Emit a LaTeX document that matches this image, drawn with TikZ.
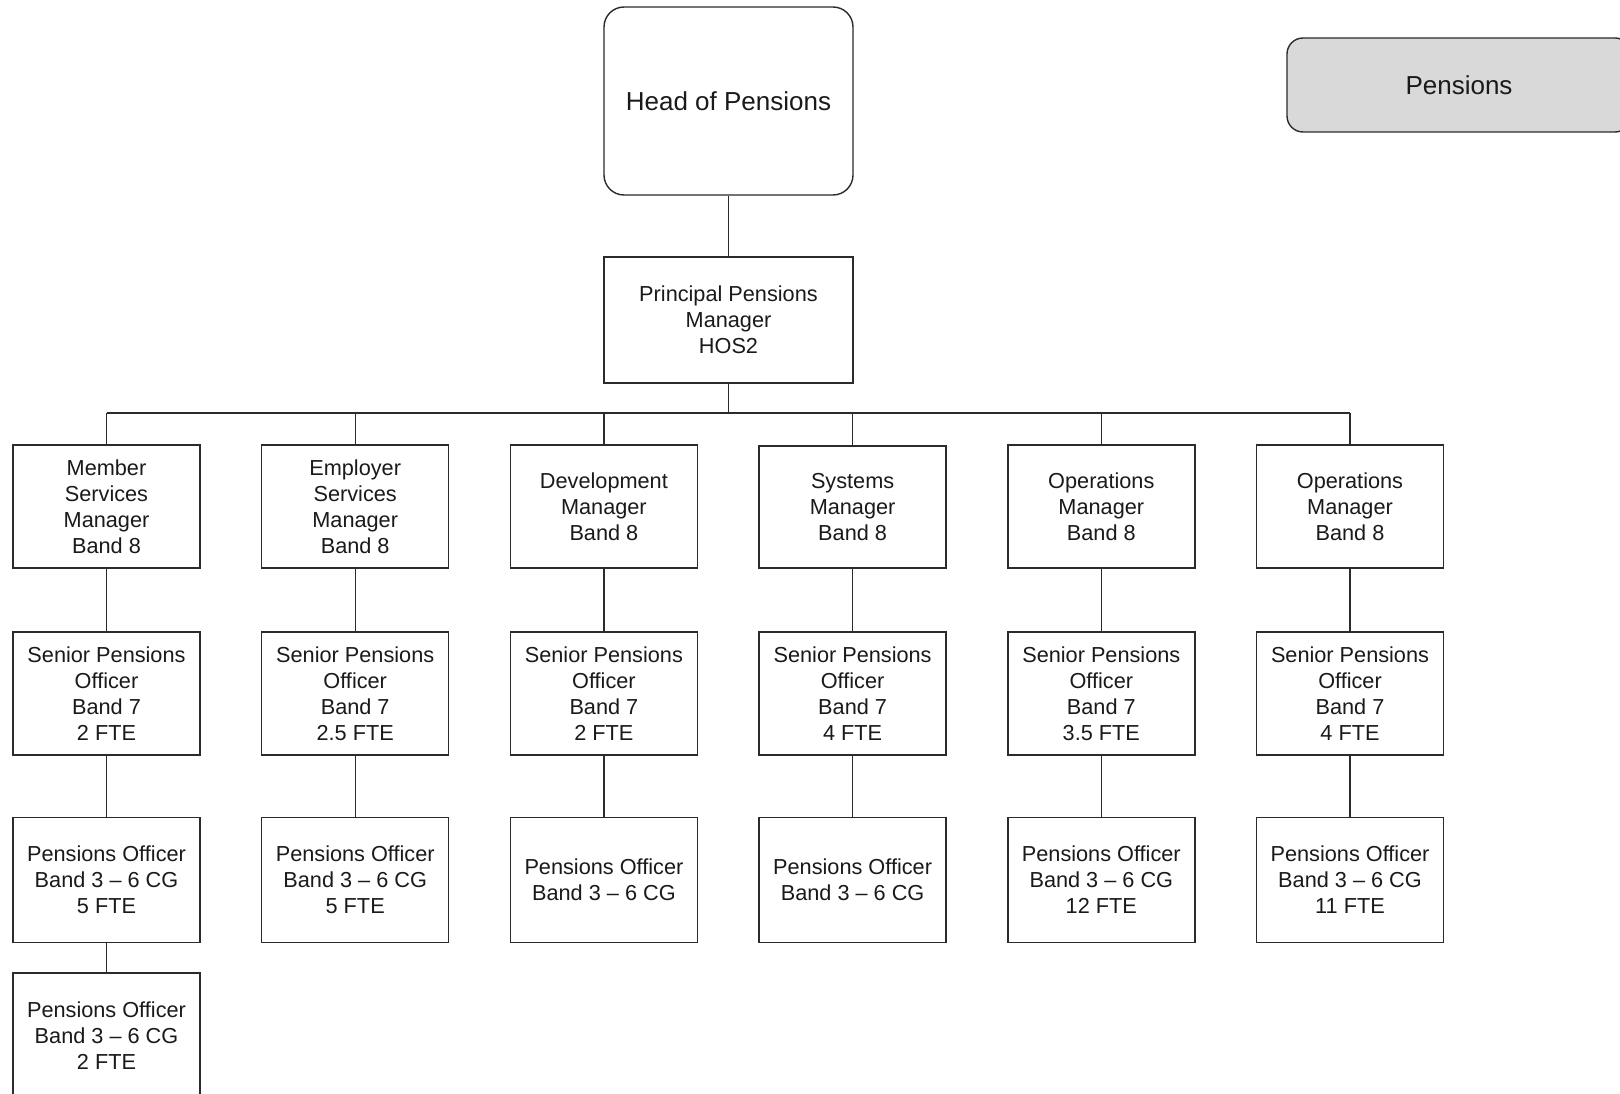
\documentclass[tikz,border=0pt]{standalone}
\usepackage{fontspec}
\setmainfont{Liberation Sans}
\definecolor{linec}{HTML}{2B2B2B}
\definecolor{txt}{HTML}{1A1A1A}
\definecolor{grayfill}{HTML}{D9D9D9}
\begin{document}
\begin{tikzpicture}[x=1pt,y=-1pt,
  box/.style={draw=linec, line width=1.4pt, minimum width=187pt, minimum height=123pt, inner sep=0pt, align=center, font=\fontsize{21.7}{26}\selectfont, text=txt},
  tallbox/.style={box, minimum height=125pt},
  headbox/.style={draw=linec, line width=1.4pt, rounded corners=20pt, minimum width=249pt, minimum height=188pt, inner sep=0pt, align=center, font=\fontsize{26}{31}\selectfont, text=txt},
  tagbox/.style={draw=linec, line width=1.4pt, rounded corners=16pt, fill=grayfill, minimum width=344pt, minimum height=94pt, inner sep=0pt, align=center, font=\fontsize{26}{31}\selectfont, text=txt},
  conn/.style={draw=linec, line width=1.4pt}]
\useasboundingbox (0,0) rectangle (1620,1094);
\fill[white] (0,0) rectangle (1620,1094);

% top
\node[headbox] (head) at (728.5,101) {Head of Pensions};
\node[tagbox] (tag) at (1459,85) {Pensions};
\node[box, minimum width=249pt, minimum height=126pt] (ppm) at (728.5,320) {Principal Pensions\\Manager\\HOS2};
\coordinate (bus) at (0,413);

% level 2
\node[box] (a2) at (106.5,506.5) {Member\\Services\\Manager\\Band 8};
\node[box] (b2) at (355.2,506.5) {Employer\\Services\\Manager\\Band 8};
\node[box] (c2) at (603.9,506.5) {Development\\Manager\\Band 8};
\node[box, minimum height=122pt] (d2) at (852.6,507) {Systems\\Manager\\Band 8};
\node[box] (e2) at (1101.3,506.5) {Operations\\Manager\\Band 8};
\node[box] (f2) at (1350,506.5) {Operations\\Manager\\Band 8};

% level 3
\node[box] (a3) at (106.5,693.5) {Senior Pensions\\Officer\\Band 7\\2 FTE};
\node[box] (b3) at (355.2,693.5) {Senior Pensions\\Officer\\Band 7\\2.5 FTE};
\node[box] (c3) at (603.9,693.5) {Senior Pensions\\Officer\\Band 7\\2 FTE};
\node[box] (d3) at (852.6,693.5) {Senior Pensions\\Officer\\Band 7\\4 FTE};
\node[box] (e3) at (1101.3,693.5) {Senior Pensions\\Officer\\Band 7\\3.5 FTE};
\node[box] (f3) at (1350,693.5) {Senior Pensions\\Officer\\Band 7\\4 FTE};

% level 4
\node[tallbox] (a4) at (106.5,880) {Pensions Officer\\Band 3 – 6 CG\\5 FTE};
\node[tallbox] (b4) at (355.2,880) {Pensions Officer\\Band 3 – 6 CG\\5 FTE};
\node[tallbox] (c4) at (603.9,880) {Pensions Officer\\Band 3 – 6 CG};
\node[tallbox] (d4) at (852.6,880) {Pensions Officer\\Band 3 – 6 CG};
\node[tallbox] (e4) at (1101.3,880) {Pensions Officer\\Band 3 – 6 CG\\12 FTE};
\node[tallbox] (f4) at (1350,880) {Pensions Officer\\Band 3 – 6 CG\\11 FTE};

% level 5
\node[tallbox] (a5) at (106.5,1035.5) {Pensions Officer\\Band 3 – 6 CG\\2 FTE};

% connectors
\draw[conn] (head.south) -- (ppm.north);
\draw[conn] (ppm.south) -- (ppm.south |- bus);
\draw[conn] (a2.north |- bus) -- (f2.north |- bus);
\foreach \c in {a,b,c,d,e,f}{
  \draw[conn] (\c2.north |- bus) -- (\c2.north);
  \draw[conn] (\c2.south) -- (\c3.north);
  \draw[conn] (\c3.south) -- (\c4.north);
}
\draw[conn] (a4.south) -- (a5.north);
\end{tikzpicture}
\end{document}
